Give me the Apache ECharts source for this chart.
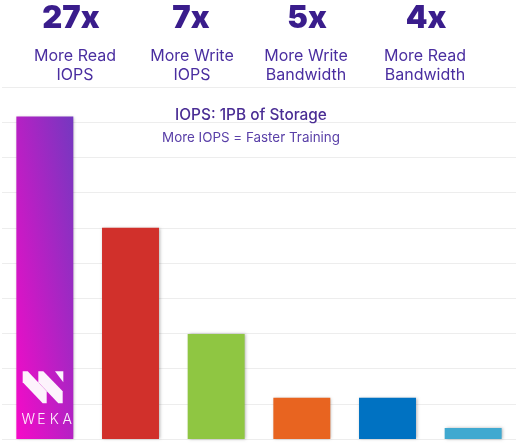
<!DOCTYPE html>
<html>
<head>
<meta charset="utf-8">
<script src="https://cdn.jsdelivr.net/npm/echarts@6/dist/echarts.min.js"></script>
<style>
html,body{margin:0;padding:0;background:#fff;}
#chart{width:516px;height:443px;}
</style>
</head>
<body>
<div id="chart"></div>
<script>
var categories = ['WEKA', 'Vendor B', 'Vendor C', 'Vendor D', 'Vendor E', 'Vendor F'];
var values = [9.16, 6.0, 2.98, 1.17, 1.17, 0.31];
var barColors = ['gradient', '#d1302b', '#8fc642', '#e86420', '#0072c2', '#40a9d0'];
var headlineNumbers = ['27x', '7x', '5x', '4x'];
var headlineLabels = ['More Read\nIOPS', 'More Write\nIOPS', 'More Write\nBandwidth', 'More Read\nBandwidth'];
var headlineX = [71, 191, 307, 426];
var labelX = [75, 192, 306, 425];

var chart = echarts.init(document.getElementById('chart'), null, {renderer: 'canvas'});

// CSS-like "to top right" gradient on a tall narrow bar (isolines through the other diagonal)
var gradient = new echarts.graphic.LinearGradient(0, 1, 1.94, 0.94, [
  {offset: 0, color: '#f60ac8'},
  {offset: 1, color: '#7438c0'}
]);

var seriesData = values.map(function (v, i) {
  return {
    value: v,
    itemStyle: {color: barColors[i] === 'gradient' ? gradient : barColors[i]}
  };
});

var graphics = [];
headlineNumbers.forEach(function (t, i) {
  graphics.push({
    type: 'text', x: headlineX[i], y: 3,
    style: {text: t, fill: '#3a1d8c', font: '900 31px Inter', textAlign: 'center', textVerticalAlign: 'top'}
  });
  graphics.push({
    type: 'text', x: labelX[i], y: 47,
    style: {text: headlineLabels[i], fill: '#4a2ea0', font: '400 16px Inter', textAlign: 'center', textVerticalAlign: 'top', lineHeight: 19}
  });
});
// WEKA logo inside first bar
var logoFill = 'rgba(255,255,255,0.95)';
graphics.push({type: 'polygon', z: 100, shape: {points: [[22.7,371.3],[27.7,371.3],[46.7,391.3],[46.7,403.3],[42.7,403.3],[22.7,382.3]]}, style: {fill: logoFill}});
graphics.push({type: 'polygon', z: 100, shape: {points: [[38.3,371.3],[43.3,371.3],[62.7,391.3],[62.7,403.3],[58.3,403.3],[38.3,382.3]]}, style: {fill: logoFill}});
graphics.push({type: 'polygon', z: 100, shape: {points: [[55,371.3],[63.3,371.3],[63.3,382.3]]}, style: {fill: logoFill}});
[['W',28.3],['E',41.5],['K',54.3],['A',67.2]].forEach(function (p) {
  graphics.push({type: 'text', x: p[1], y: 419.5, z: 100,
    style: {text: p[0], fill: logoFill, font: '300 14px Inter', textAlign: 'center', textVerticalAlign: 'middle'}});
});

var option = {
  animation: false,
  backgroundColor: '#ffffff',
  title: {
    text: 'IOPS: 1PB of Storage',
    subtext: 'More IOPS = Faster Training',
    left: 246, top: 103, textAlign: 'center', itemGap: 8,
    textStyle: {color: '#4a2d94', fontFamily: 'Inter', fontWeight: 500, fontSize: 15.4},
    subtextStyle: {color: '#5a40a8', fontFamily: 'Inter', fontWeight: 400, fontSize: 13.4}
  },
  grid: {left: 2, right: 0, top: 87, bottom: 4, containLabel: false},
  xAxis: {
    type: 'category', data: categories,
    axisLine: {show: false}, axisTick: {show: false}, axisLabel: {show: false}
  },
  yAxis: {
    type: 'value', min: 0, max: 10, interval: 1,
    axisLabel: {show: false}, axisLine: {show: false}, axisTick: {show: false},
    splitLine: {lineStyle: {color: '#ededed', width: 1}}
  },
  series: [{
    type: 'bar',
    data: seriesData,
    barWidth: '66.5%',
    itemStyle: {shadowBlur: 3, shadowColor: 'rgba(0,0,0,0.3)', shadowOffsetX: 1, shadowOffsetY: 0}
  }],
  graphic: graphics
};
chart.setOption(option);
</script>
</body>
</html>
